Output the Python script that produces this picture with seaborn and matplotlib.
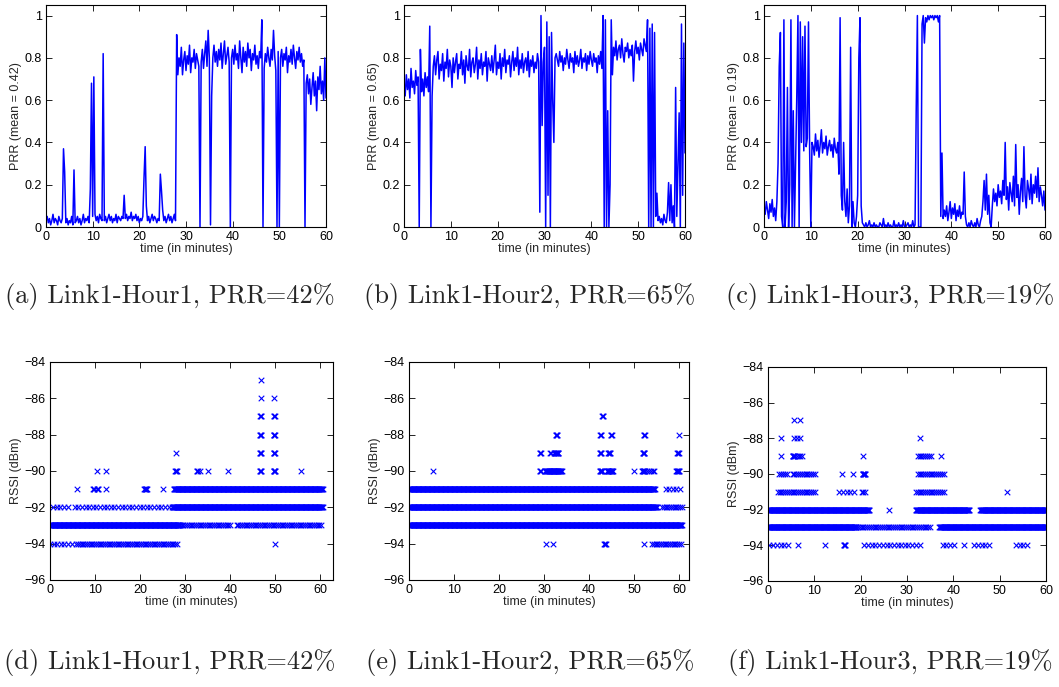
import numpy as np
import pandas as pd
import matplotlib
matplotlib.use("Agg")
import matplotlib.pyplot as plt
import seaborn as sns

# ---------------- data ----------------
captions_top = ["(a) Link1-Hour1, PRR=42%", "(b) Link1-Hour2, PRR=65%", "(c) Link1-Hour3, PRR=19%"]
captions_bottom = ["(d) Link1-Hour1, PRR=42%", "(e) Link1-Hour2, PRR=65%", "(f) Link1-Hour3, PRR=19%"]
prr_mean_labels = ["0.42", "0.65", "0.19"]
x_label = "time (in minutes)"
rssi_label = "RSSI (dBm)"
prr_ticks = [0, 0.2, 0.4, 0.6, 0.8, 1]
rssi_ticks = [-96, -94, -92, -90, -88, -86, -84]
time_ticks = [0, 10, 20, 30, 40, 50, 60]
hour_minutes = 60

# PRR readings, one every quarter minute over the hour
prr_hour1 = [
    0.03, 0.05, 0.02, 0.04, 0.01, 0.03, 0.06, 0.02, 0.04, 0.03, 0.01, 0.05, 0.03, 0.02, 0.04,
    0.37, 0.26,
    0.02, 0.04, 0.01, 0.03, 0.02, 0.05, 0.01,
    0.27,
    0.02, 0.03, 0.05, 0.02, 0.04, 0.01, 0.03, 0.06, 0.02, 0.04, 0.03, 0.05, 0.02,
    0.18, 0.68, 0.05, 0.71, 0.06,
    0.03, 0.05, 0.02, 0.06, 0.04, 0.03,
    0.82,
    0.03, 0.05, 0.02, 0.04, 0.06, 0.03, 0.05, 0.02, 0.04, 0.03, 0.06, 0.02, 0.05, 0.04, 0.03, 0.05, 0.04,
    0.15,
    0.04, 0.06, 0.03, 0.05, 0.04, 0.07, 0.03, 0.05, 0.04, 0.06, 0.03, 0.05, 0.02, 0.04, 0.03, 0.05,
    0.23, 0.38, 0.10,
    0.03, 0.05, 0.02, 0.04, 0.06, 0.03, 0.05, 0.04, 0.02, 0.04, 0.03,
    0.25, 0.17, 0.08,
    0.03, 0.05, 0.02, 0.04, 0.06, 0.03, 0.05, 0.02, 0.04, 0.06, 0.03,
    0.91, 0.72,
    0.80, 0.76, 0.85, 0.72, 0.79, 0.83, 0.74, 0.81, 0.77, 0.86, 0.73, 0.80, 0.78, 0.84, 0.75, 0.82, 0.79, 0.76,
    0.00,
    0.78, 0.84, 0.75, 0.82, 0.88, 0.76, 0.93, 0.80,
    0.01, 0.62,
    0.80, 0.86, 0.78, 0.83, 0.76, 0.84, 0.79, 0.87, 0.75, 0.82, 0.88, 0.77, 0.81, 0.85, 0.78,
    0.00,
    0.80, 0.84, 0.77, 0.86, 0.79, 0.82, 0.75, 0.88, 0.80, 0.73, 0.85, 0.78, 0.83, 0.76, 0.87, 0.80,
    0.84, 0.74, 0.82, 0.79, 0.86, 0.77, 0.81, 0.75, 0.83, 0.80,
    0.98, 0.00, 0.75,
    0.82, 0.78, 0.85, 0.80, 0.76, 0.84, 0.79, 0.93, 0.81, 0.74,
    0.00, 0.83, 0.00,
    0.80, 0.84, 0.76, 0.82, 0.79, 0.85, 0.73, 0.81, 0.78, 0.84, 0.77, 0.86, 0.80, 0.75, 0.83, 0.79,
    0.85, 0.78, 0.82, 0.76, 0.79,
    0.00,
    0.68, 0.72, 0.63, 0.70, 0.58, 0.66, 0.73, 0.62, 0.69, 0.55, 0.71, 0.65, 0.76, 0.63, 0.69, 0.60, 0.80, 0.61,
]

prr_hour2 = [
    0.68, 0.62, 0.72, 0.65, 0.70, 0.61, 0.75, 0.66, 0.69, 0.63, 0.74, 0.67, 0.71,
    0.00, 0.84, 0.64,
    0.70, 0.62, 0.73, 0.66, 0.71, 0.64,
    0.95, 0.00, 0.62,
    0.76, 0.81, 0.72, 0.79, 0.83, 0.70, 0.77, 0.74, 0.82, 0.69,
    0.78, 0.75, 0.84, 0.71, 0.79, 0.76, 0.66, 0.80, 0.73, 0.78,
    0.82, 0.70, 0.77, 0.75, 0.83, 0.72, 0.79, 0.68, 0.81, 0.76,
    0.74, 0.84, 0.71, 0.78, 0.80, 0.73, 0.77, 0.85, 0.70, 0.79,
    0.75, 0.82, 0.72, 0.78, 0.76, 0.83, 0.69, 0.80, 0.77, 0.74,
    0.81, 0.73, 0.79, 0.86, 0.72, 0.78, 0.75, 0.82, 0.70, 0.80,
    0.76, 0.84, 0.73, 0.79, 0.77, 0.81, 0.71, 0.78, 0.83, 0.74,
    0.80, 0.76, 0.85, 0.72, 0.79, 0.75, 0.82, 0.73, 0.78, 0.80,
    0.74, 0.83, 0.71, 0.79, 0.76, 0.81, 0.73, 0.78, 0.75, 0.82,
    0.78, 0.07, 1.00, 0.48, 0.78, 0.85, 0.00, 0.97, 0.15, 0.90, 0.00, 0.92, 0.60, 0.40, 0.80,
    0.82, 0.79, 0.76, 0.83, 0.78, 0.81, 0.74, 0.80, 0.77, 0.84,
    0.79, 0.75, 0.82, 0.78, 0.80, 0.73, 0.83, 0.77, 0.81, 0.76,
    0.79, 0.84, 0.75, 0.80, 0.78, 0.82, 0.74, 0.81, 0.77, 0.83,
    0.79, 0.76, 0.82, 0.78, 0.80, 0.73, 0.81, 0.77, 0.83, 0.75,
    1.00, 0.00, 0.98, 0.00, 0.55, 0.00, 0.20, 0.98, 0.72,
    0.85, 0.81, 0.88, 0.79, 0.84, 0.86, 0.80, 0.89, 0.82, 0.78,
    0.85, 0.83, 0.87, 0.80, 0.84, 0.81, 0.86, 0.69, 0.83, 0.88,
    0.82, 0.85, 0.79, 0.87, 0.84, 0.81, 0.89, 0.86, 0.83,
    0.98, 0.00, 0.94, 0.00, 0.96, 0.00, 0.92, 0.05,
    0.16, 0.03, 0.05, 0.02, 0.04, 0.01, 0.06, 0.03, 0.02, 0.07, 0.21, 0.03, 0.20, 0.02, 0.10,
    0.00, 0.66, 0.05, 0.30, 0.54, 0.00, 0.96, 0.15, 0.87, 0.35,
]

prr_hour3 = [
    0.10, 0.06, 0.12, 0.08, 0.04, 0.11, 0.07, 0.13, 0.05, 0.09, 0.03, 0.12,
    0.30, 0.76, 0.92, 0.05, 0.00, 0.98, 0.00, 0.12, 0.66, 0.00, 0.20, 0.98, 0.00, 0.55, 0.00,
    0.30, 0.62, 1.00, 0.00, 0.97, 0.40, 0.90, 0.36, 0.95, 0.38, 0.42, 0.97, 0.35, 0.00, 0.40,
    0.38, 0.34, 0.44, 0.36, 0.41, 0.33, 0.39, 0.46, 0.35, 0.40, 0.37, 0.43, 0.34, 0.38, 0.41,
    0.36, 0.39, 0.33, 0.42, 0.37, 0.35, 0.40,
    0.25, 0.99, 0.15, 0.08, 0.40, 0.12, 0.05, 0.18, 0.02, 0.10, 0.85, 0.00, 0.12, 0.02, 0.00,
    0.05, 0.15, 0.80, 0.99, 0.10, 0.02,
    0.01, 0.00, 0.02, 0.00, 0.01, 0.03, 0.00, 0.01, 0.00, 0.02,
    0.00, 0.01, 0.00, 0.00, 0.02, 0.01, 0.00, 0.04, 0.00, 0.01,
    0.00, 0.02, 0.00, 0.01, 0.00, 0.00, 0.03, 0.00, 0.01, 0.00,
    0.02, 0.00, 0.01, 0.00, 0.03, 0.00, 0.00, 0.01, 0.02, 0.00,
    0.01, 0.00, 0.03, 0.00, 0.01,
    0.55, 1.00, 0.00, 0.00, 0.00, 0.96, 1.00, 0.87, 0.99, 0.97, 1.00, 0.98, 1.00, 0.99, 1.00,
    0.98, 1.00, 0.99, 1.00, 0.97, 1.00, 0.05, 0.35, 0.04,
    0.08, 0.05, 0.10, 0.03, 0.07, 0.12, 0.04, 0.09, 0.06, 0.11, 0.03, 0.08, 0.05, 0.10, 0.04,
    0.07, 0.06,
    0.26, 0.05,
    0.01, 0.00, 0.02, 0.00, 0.03, 0.01, 0.00, 0.02, 0.00, 0.04, 0.01, 0.00, 0.03, 0.05,
    0.12, 0.22, 0.08, 0.25, 0.06, 0.15, 0.02, 0.00, 0.10,
    0.18, 0.12, 0.16, 0.10, 0.20, 0.14, 0.17, 0.11, 0.22, 0.15,
    0.40, 0.13, 0.19, 0.08, 0.21, 0.16, 0.12, 0.24, 0.10, 0.39,
    0.14, 0.20, 0.06, 0.17, 0.23, 0.12, 0.38, 0.15, 0.09, 0.22,
    0.18, 0.13, 0.25, 0.11, 0.20, 0.16, 0.24, 0.14, 0.28, 0.12,
    0.19, 0.15, 0.10, 0.17, 0.08,
]

# RSSI observations: (rssi dBm, first minute, last minute, how often packets were seen)
rssi_hour1 = [
    (-85, 46.8, 46.8, "sparse"),
    (-86, 46.8, 46.8, "sparse"), (-86, 49.8, 49.8, "sparse"),
    (-87, 46.7, 46.9, "dense"), (-87, 49.7, 49.9, "dense"),
    (-88, 46.6, 46.9, "dense"), (-88, 49.6, 49.9, "dense"),
    (-89, 27.9, 27.9, "sparse"), (-89, 46.6, 46.9, "dense"), (-89, 49.6, 49.9, "dense"),
    (-90, 10.4, 10.4, "sparse"), (-90, 12.4, 12.4, "sparse"), (-90, 27.8, 28.1, "dense"),
    (-90, 32.6, 32.8, "dense"), (-90, 33.2, 33.2, "sparse"), (-90, 35.0, 35.0, "sparse"),
    (-90, 39.6, 39.6, "sparse"), (-90, 46.6, 46.9, "dense"), (-90, 49.6, 50.0, "dense"),
    (-90, 55.8, 55.8, "sparse"),
    (-91, 6.1, 6.1, "sparse"), (-91, 9.6, 9.8, "dense"), (-91, 10.5, 10.7, "dense"),
    (-91, 12.4, 12.4, "sparse"), (-91, 20.9, 21.5, "dense"), (-91, 25.0, 25.0, "sparse"),
    (-91, 27.5, 60.5, "dense"),
    (-92, 0.7, 4.4, "sparse"), (-92, 5.5, 15.1, "sparse"), (-92, 15.9, 27.3, "sparse"),
    (-92, 27.3, 60.5, "dense"),
    (-93, 0.0, 28.8, "dense"), (-93, 28.8, 40.3, "light"), (-93, 41.4, 60.5, "light"),
    (-94, 0.0, 5.0, "sparse"), (-94, 5.8, 28.5, "light"), (-94, 49.9, 49.9, "sparse"),
]

rssi_hour2 = [
    (-87, 42.9, 43.1, "dense"),
    (-88, 32.6, 32.9, "dense"), (-88, 42.5, 42.7, "dense"), (-88, 44.8, 45.0, "dense"),
    (-88, 52.2, 52.4, "dense"), (-88, 60.0, 60.0, "sparse"),
    (-89, 29.1, 29.3, "dense"), (-89, 31.4, 31.5, "dense"), (-89, 32.3, 33.2, "dense"),
    (-89, 42.4, 42.7, "dense"), (-89, 44.3, 44.7, "dense"), (-89, 51.9, 52.3, "dense"),
    (-89, 59.6, 59.9, "dense"),
    (-90, 5.3, 5.3, "sparse"), (-90, 29.1, 29.3, "dense"), (-90, 30.3, 33.9, "dense"),
    (-90, 42.4, 42.9, "dense"), (-90, 44.0, 45.3, "dense"), (-90, 49.9, 49.9, "sparse"),
    (-90, 51.8, 52.3, "dense"), (-90, 52.5, 54.6, "light"), (-90, 59.4, 60.0, "dense"),
    (-91, 0.0, 54.6, "dense"), (-91, 57.0, 60.5, "sparse"),
    (-92, 0.0, 55.0, "dense"), (-92, 56.2, 60.6, "light"),
    (-93, 0.0, 60.6, "dense"),
    (-94, 30.5, 30.5, "sparse"), (-94, 31.9, 31.9, "sparse"), (-94, 43.4, 43.7, "dense"),
    (-94, 52.3, 52.3, "sparse"), (-94, 54.0, 60.5, "light"),
]

rssi_hour3 = [
    (-87, 5.6, 5.6, "sparse"), (-87, 7.0, 7.0, "sparse"),
    (-88, 2.8, 2.8, "sparse"), (-88, 5.6, 5.6, "sparse"), (-88, 6.3, 6.3, "sparse"),
    (-88, 7.0, 7.0, "sparse"), (-88, 32.7, 32.7, "sparse"),
    (-89, 2.8, 2.8, "sparse"), (-89, 5.3, 5.8, "dense"), (-89, 6.2, 7.4, "light"),
    (-89, 20.6, 20.6, "sparse"), (-89, 32.3, 35.2, "light"), (-89, 37.3, 37.3, "sparse"),
    (-90, 2.4, 4.3, "light"), (-90, 5.3, 10.1, "light"), (-90, 16.0, 16.0, "sparse"),
    (-90, 18.4, 18.4, "sparse"), (-90, 20.4, 21.0, "dense"), (-90, 32.3, 38.1, "light"),
    (-91, 2.1, 10.4, "light"), (-91, 15.4, 19.0, "sparse"), (-91, 20.2, 21.3, "light"),
    (-91, 31.9, 38.1, "light"), (-91, 51.5, 51.5, "sparse"),
    (-92, 0.0, 21.8, "dense"), (-92, 26.2, 26.2, "sparse"), (-92, 31.9, 43.4, "dense"),
    (-92, 45.8, 60.2, "dense"),
    (-93, 0.0, 19.0, "dense"), (-93, 19.0, 35.2, "light"), (-93, 37.0, 60.2, "dense"),
    (-94, 0.3, 4.3, "sparse"), (-94, 6.4, 6.4, "sparse"), (-94, 12.2, 12.2, "sparse"),
    (-94, 16.4, 16.7, "dense"), (-94, 20.8, 28.0, "sparse"), (-94, 28.7, 32.7, "sparse"),
    (-94, 37.7, 40.6, "sparse"), (-94, 42.2, 42.2, "sparse"), (-94, 44.5, 47.8, "sparse"),
    (-94, 53.5, 56.4, "sparse"),
]

packet_spacing = {"dense": 0.1, "light": 0.4, "sparse": 0.8}

# ---------------- helpers ----------------
def prr_frame(values):
    t = np.linspace(0, hour_minutes, len(values))
    return pd.DataFrame({"time": t, "prr": values})


def rssi_frame(runs):
    rows = []
    for level, start, end, kind in runs:
        if end <= start:
            times = [start]
        else:
            times = np.arange(start, end + 1e-9, packet_spacing[kind])
        rows.extend((tt, level) for tt in times)
    return pd.DataFrame(rows, columns=["time", "rssi"])


# ---------------- style ----------------
sns.set_style("ticks")
plt.rcParams["font.family"] = ["Liberation Sans", "DejaVu Sans"]
plt.rcParams["xtick.direction"] = "in"
plt.rcParams["ytick.direction"] = "in"

W, H = 1059, 687
fig = plt.figure(figsize=(W / 100, H / 100), dpi=100)

def px_axes(l, r, t, b):
    return fig.add_axes([l / W, 1 - b / H, (r - l) / W, (b - t) / H])

top_boxes = [(46, 326, 5, 227), (404, 685, 5, 227), (764, 1045, 5, 227)]
bottom_boxes = [(50, 333, 362, 580), (409, 689, 362, 580), (768, 1046, 367, 581)]
bottom_xmax = [62.8, 62.2, 60]
blue = "#0000ff"

def style_axes(ax):
    ax.tick_params(axis="both", which="both", direction="in", top=True, right=True,
                   length=4, width=0.6, labelsize=9, pad=3, colors="black")
    for sp in ax.spines.values():
        sp.set_visible(True)
        sp.set_linewidth(0.8)
        sp.set_color("black")
    ax.set_facecolor("white")

for box, vals, mean_lbl in zip(top_boxes, [prr_hour1, prr_hour2, prr_hour3], prr_mean_labels):
    ax = px_axes(*box)
    sns.lineplot(data=prr_frame(vals), x="time", y="prr", color=blue, linewidth=1.1,
                 estimator=None, ax=ax)
    ax.set_xlim(0, hour_minutes)
    ax.set_ylim(0, 1.05)
    ax.set_xticks(time_ticks)
    ax.set_yticks(prr_ticks)
    ax.set_yticklabels([f"{v:g}" for v in prr_ticks])
    ax.set_xlabel(x_label, fontsize=9, labelpad=0)
    ax.set_ylabel(f"PRR (mean = {mean_lbl})", fontsize=9, labelpad=2)
    style_axes(ax)

for box, runs, xmax in zip(bottom_boxes, [rssi_hour1, rssi_hour2, rssi_hour3], bottom_xmax):
    ax = px_axes(*box)
    sns.scatterplot(data=rssi_frame(runs), x="time", y="rssi", marker="x", color=blue,
                    s=16, linewidth=0.8, ax=ax)
    ax.set_xlim(0, xmax)
    ax.set_ylim(-96, -84)
    ax.set_xticks(time_ticks)
    ax.set_yticks(rssi_ticks)
    ax.set_xlabel(x_label, fontsize=9, labelpad=0)
    ax.set_ylabel(rssi_label, fontsize=9, labelpad=2)
    style_axes(ax)

cap_x = [170, 530, 890]
for cx, txt in zip(cap_x, captions_top):
    fig.text(cx / W, 1 - 297 / H, txt, ha="center", va="center", fontsize=19,
             family=["cmr10", "DejaVu Serif"])
for cx, txt in zip(cap_x, captions_bottom):
    fig.text(cx / W, 1 - 663 / H, txt, ha="center", va="center", fontsize=19,
             family=["cmr10", "DejaVu Serif"])

fig.savefig("out.png", dpi=100, facecolor="white")
